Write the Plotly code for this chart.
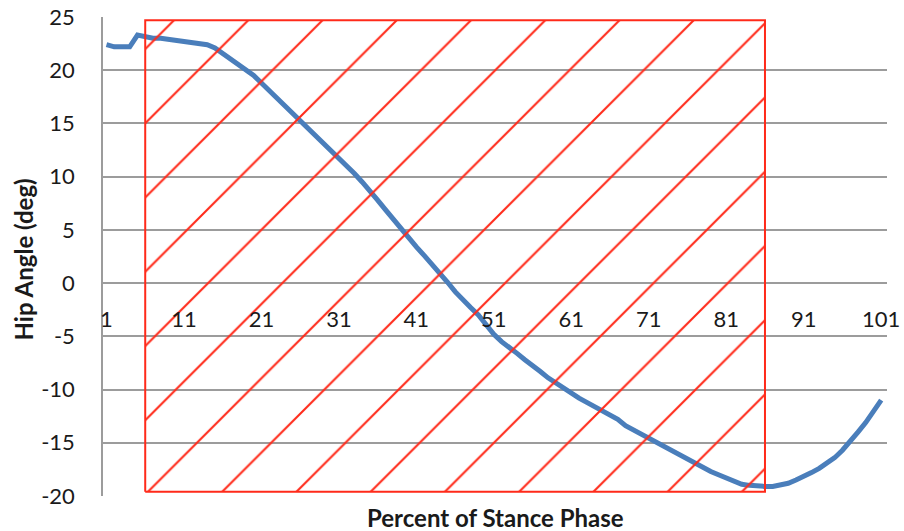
import plotly.graph_objects as go

# Hip angle over the stance phase (percent of stance, 1..101)
percent = list(range(1, 102))
hip_angle = [
    22.4, 22.2, 22.2, 22.2, 23.3, 23.1, 23.0, 23.0, 22.9, 22.9,
    22.8, 22.7, 22.6, 22.4, 22.1, 21.6, 21.0, 20.5, 20.1, 19.5,
    18.8, 18.1, 17.3, 16.6, 15.9, 15.2, 14.5, 13.8, 13.2, 12.5,
    11.8, 11.1, 10.3, 9.5, 8.7, 7.8, 6.9, 6.0, 5.1, 4.3,
    3.4, 2.6, 1.8, 0.9, 0.1, -0.8, -1.6, -2.3, -3.0, -3.9,
    -4.8, -5.5, -6.0, -6.6, -7.2, -7.7, -8.3, -8.9, -9.4, -9.9,
    -10.3, -10.8, -11.2, -11.6, -12.0, -12.4, -12.8, -13.4, -13.8, -14.1,
    -14.5, -14.9, -15.3, -15.8, -16.2, -16.6, -17.0, -17.3, -17.7, -18.0,
    -18.3, -18.6, -18.9, -19.0, -19.1, -19.1, -19.1, -19.0, -18.8, -18.5,
    -18.2, -17.8, -17.4, -16.9, -16.4, -15.7, -14.9, -14.0, -13.1, -12.1,
    -11.0,
]

x_tick_values = [1, 11, 21, 31, 41, 51, 61, 71, 81, 91, 101]
x_tick_labels = ["1", "11", "21", "31", "41", "51", "61", "71", "81", "91", "101"]
y_tick_values = [-20, -15, -10, -5, 0, 5, 10, 15, 20, 25]
y_tick_labels = ["-20", "-15", "-10", "-5", "0", "5", "10", "15", "20", "25"]

# Highlighted (hatched) window of the stance phase
highlight_start = 6
highlight_end = 86
highlight_low = -19.6
highlight_high = 24.7

y_min, y_max = -20, 25
x_min, x_max = 0.55, 101.75

GRID = "#9c9c9c"
BLUE = "#4a7ebb"
RED = "#ff2a1a"
FONT = "Lato"
TEXT = "#1a1a1a"

fig = go.Figure()

fig.add_trace(go.Scatter(
    x=percent, y=hip_angle, mode="lines",
    line=dict(color=BLUE, width=5),
    hoverinfo="skip", showlegend=False,
))

fig.add_trace(go.Scatter(
    x=[highlight_start, highlight_end, highlight_end, highlight_start, highlight_start],
    y=[highlight_low, highlight_low, highlight_high, highlight_high, highlight_low],
    mode="lines", fill="toself",
    fillcolor="rgba(0,0,0,0)",
    fillpattern=dict(shape="/", fgcolor=RED, bgcolor="rgba(0,0,0,0)",
                     fgopacity=1, size=52.5, solidity=0.04),
    line=dict(color=RED, width=2),
    hoverinfo="skip", showlegend=False,
))

zero_pos = (0 - y_min) / (y_max - y_min)

fig.update_layout(
    width=904, height=531,
    margin=dict(l=103, r=17, t=17, b=35),
    paper_bgcolor="white", plot_bgcolor="white",
    font=dict(family=FONT, size=22, color=TEXT),
    xaxis=dict(
        range=[x_min, x_max], tickvals=x_tick_values, ticktext=x_tick_labels,
        showgrid=False, zeroline=False, showline=False,
        anchor="free", position=zero_pos, automargin=False,
        ticklabeloverflow="allow",
        ticks="", ticklabelstandoff=21,
    ),
    yaxis=dict(
        range=[y_min, y_max], tickvals=y_tick_values, ticktext=y_tick_labels,
        showgrid=True, gridcolor=GRID, gridwidth=1.5,
        zeroline=False, showline=True, linecolor=GRID, linewidth=1.5,
        automargin=False, ticklabeloverflow="allow",
        ticks="", ticklabelstandoff=22,
    ),
    annotations=[
        dict(text="<b>Percent of Stance Phase</b>", xref="paper", yref="paper",
             x=0.5, y=0, yshift=-21, xanchor="center", yanchor="middle",
             showarrow=False, font=dict(family=FONT, size=24, color=TEXT)),
        dict(text="<b>Hip Angle (deg)</b>", xref="paper", yref="paper",
             x=0, xshift=-80, y=0.5, yshift=-3, xanchor="center", yanchor="middle",
             textangle=-90, showarrow=False,
             font=dict(family=FONT, size=24, color=TEXT)),
    ],
)

fig.write_html("out.html")
